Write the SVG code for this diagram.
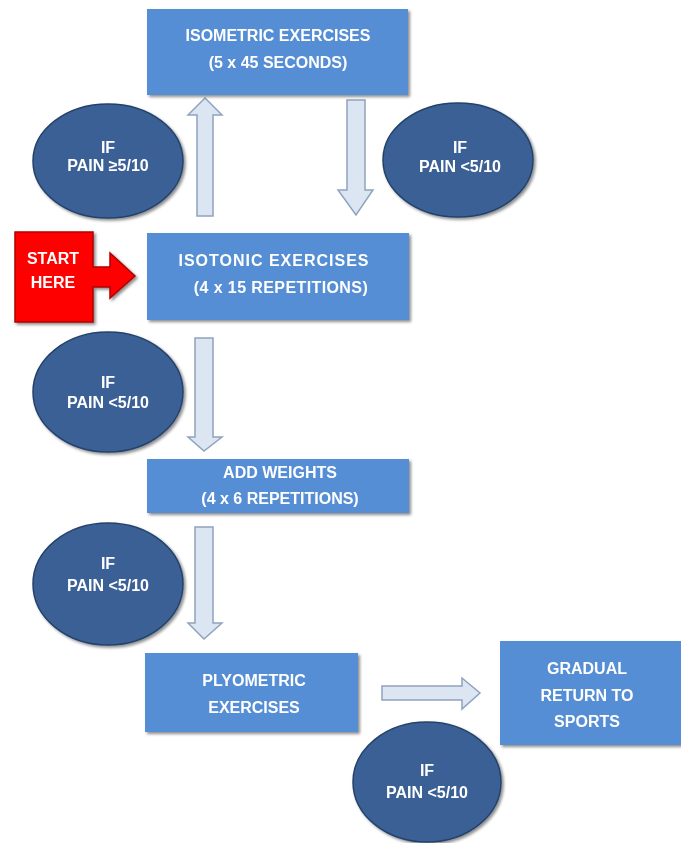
<svg xmlns="http://www.w3.org/2000/svg" width="681" height="843" viewBox="0 0 681 843">
<defs>
<filter id="sh" x="-10%" y="-10%" width="130%" height="130%">
<feGaussianBlur in="SourceAlpha" stdDeviation="1.5"/>
<feOffset dx="1.5" dy="2" result="o"/>
<feComponentTransfer><feFuncA type="linear" slope="0.45"/></feComponentTransfer>
<feMerge><feMergeNode/><feMergeNode in="SourceGraphic"/></feMerge>
</filter>
</defs>
<style>
.box{fill:#558ED5;}
.ell{fill:#3B6196;stroke:#24426B;stroke-width:1.5;}
.arr{fill:#DCE6F2;stroke:#8FA3BF;stroke-width:1.5;}
.red{fill:#FF0000;stroke:#B20000;stroke-width:1.5;}
text{font-family:"Liberation Sans",Arial,sans-serif;font-weight:bold;font-size:16px;fill:#FFFFFF;text-anchor:middle;}
.wide{letter-spacing:1px;}
</style>
<rect width="681" height="843" fill="#FFFFFF"/>
<g id="connectors">
<path class="arr" d="M197,216 L197,115 L188,115 L205,98 L222,115 L213,115 L213,216 Z"/>
<path class="arr" d="M347,100 L365,100 L365,190 L373,190 L356,215 L338,190 L347,190 Z"/>
<path class="arr" d="M195,338 L213,338 L213,437 L222,437 L204,451 L188,437 L195,437 Z"/>
<path class="arr" d="M195,527 L213,527 L213,623 L222,623 L204,639 L188,623 L195,623 Z"/>
<path class="arr" d="M382,686 L462,686 L462,678 L480,693 L462,709 L462,700 L382,700 Z"/>
</g>
<g id="isometric" filter="url(#sh)">
<rect class="box" x="147" y="9" width="261" height="86"/>
<text x="278" y="41">ISOMETRIC EXERCISES</text>
<text x="278" y="68">(5 x 45 SECONDS)</text>
</g>
<g id="pain-ge-5" filter="url(#sh)">
<ellipse class="ell" cx="108" cy="161" rx="75" ry="57"/>
<text x="108" y="153">IF</text>
<text x="108" y="171">PAIN ≥5/10</text>
</g>
<g id="pain-lt-5-a" filter="url(#sh)">
<ellipse class="ell" cx="458" cy="160" rx="75" ry="57"/>
<text x="460" y="153">IF</text>
<text x="460" y="172">PAIN &lt;5/10</text>
</g>
<g id="start-here" filter="url(#sh)">
<path class="red" d="M15,232 L93,232 L93,267 L110,267 L110,253 L135,276 L110,298 L110,287 L93,287 L93,322 L15,322 Z"/>
<text x="53" y="264">START</text>
<text x="53" y="288">HERE</text>
</g>
<g id="isotonic" filter="url(#sh)">
<rect class="box" x="147" y="233" width="262" height="87"/>
<text class="wide" x="274" y="266">ISOTONIC EXERCISES</text>
<text x="281" y="293" style="letter-spacing:0.4px">(4 x 15 REPETITIONS)</text>
</g>
<g id="pain-lt-5-b" filter="url(#sh)">
<ellipse class="ell" cx="108" cy="392" rx="75" ry="60"/>
<text x="108" y="388">IF</text>
<text x="108" y="408">PAIN &lt;5/10</text>
</g>
<g id="add-weights" filter="url(#sh)">
<rect class="box" x="147" y="459" width="262" height="54"/>
<text x="280" y="478">ADD WEIGHTS</text>
<text x="280" y="504">(4 x 6 REPETITIONS)</text>
</g>
<g id="pain-lt-5-c" filter="url(#sh)">
<ellipse class="ell" cx="108" cy="584" rx="75" ry="61"/>
<text x="108" y="569">IF</text>
<text x="108" y="591">PAIN &lt;5/10</text>
</g>
<g id="plyometric" filter="url(#sh)">
<rect class="box" x="145" y="653" width="213" height="79"/>
<text x="254" y="686">PLYOMETRIC</text>
<text x="254" y="713">EXERCISES</text>
</g>
<g id="return-to-sports" filter="url(#sh)">
<rect class="box" x="500" y="641" width="181" height="104"/>
<text x="587" y="674">GRADUAL</text>
<text x="587" y="701">RETURN TO</text>
<text x="587" y="727">SPORTS</text>
</g>
<g id="pain-lt-5-d" filter="url(#sh)">
<ellipse class="ell" cx="427" cy="782" rx="74" ry="60"/>
<text x="427" y="776">IF</text>
<text x="427" y="798">PAIN &lt;5/10</text>
</g>
</svg>
